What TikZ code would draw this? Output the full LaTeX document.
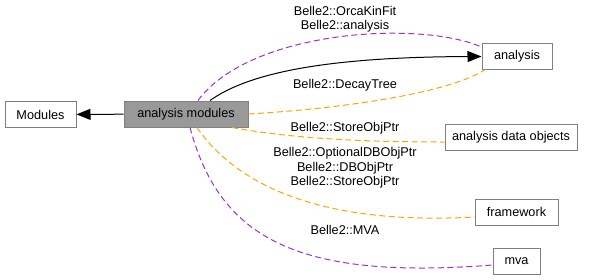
\documentclass[tikz,border=0pt]{standalone}
\usepackage{fontspec}
\setmainfont{Liberation Sans}
\usetikzlibrary{arrows.meta}
\definecolor{edgepurple}{RGB}{154,50,205}
\definecolor{edgeorange}{RGB}{255,165,0}
\definecolor{boxgray}{RGB}{128,128,128}
\definecolor{fillgray}{RGB}{153,153,153}
\begin{document}
\begin{tikzpicture}[x=1pt,y=-1pt,
  box/.style={draw=boxgray,line width=1pt,fill=white,minimum height=26pt,inner sep=0pt,font=\fontsize{12.7}{14.5}\selectfont},
  lbl/.style={align=center,inner sep=0pt,font=\fontsize{12.7}{14.5}\selectfont},
  dep/.style={dash pattern=on 6pt off 3.5pt,line width=1pt}]
\useasboundingbox (0,0) rectangle (595,279);

\node[box,minimum width=71pt] (modules) at (40.5,114.5) {Modules};
\node[box,minimum width=124pt,fill=fillgray] (am) at (186,114) {analysis modules};
\node[box,minimum width=70pt] (analysis) at (517,56.5) {analysis};
\node[box,minimum width=132pt] (ado) at (511,137) {analysis data objects};
\node[box,minimum width=83pt] (fw) at (516.5,212) {framework};
\node[box,minimum width=47pt] (mva) at (516.5,261) {mva};

\draw[-{Triangle[length=14pt,width=11pt]},line width=1pt] (am) -- (modules);
\draw[-{Triangle[length=14pt,width=11pt]},line width=1pt] ([xshift=24pt]am.north) .. controls (250,72) and (330,57) .. (analysis.west);
\draw[dep,edgepurple] ([xshift=12pt]am.north) .. controls (250,30) and (420,20) .. ([yshift=-4pt]analysis.north west);
\draw[dep,edgeorange] (am.east) .. controls (350,108) and (450,92) .. ([xshift=3pt]analysis.south west);
\draw[dep,edgeorange] ([xshift=46pt]am.south) .. controls (300,140) and (380,142) .. ([yshift=-5pt]ado.west);
\draw[dep,edgeorange] ([xshift=11pt]am.south) .. controls (240,190) and (330,225) .. ([yshift=-5pt]fw.west);
\draw[dep,edgepurple] ([xshift=4pt]am.south) .. controls (220,240) and (300,280) .. ([yshift=-4pt]mva.west);

\node[lbl] (l1) at (345,19) {Belle2::OrcaKinFit\\Belle2::analysis};
\node[lbl] (l2) at (345,85) {Belle2::DecayTree};
\node[lbl] (l3) at (345,128) {Belle2::StoreObjPtr};
\node[lbl] (l4) at (345,168) {Belle2::OptionalDBObjPtr\\Belle2::DBObjPtr\\Belle2::StoreObjPtr};
\node[lbl] (l5) at (345,230) {Belle2::MVA};
\end{tikzpicture}
\end{document}
